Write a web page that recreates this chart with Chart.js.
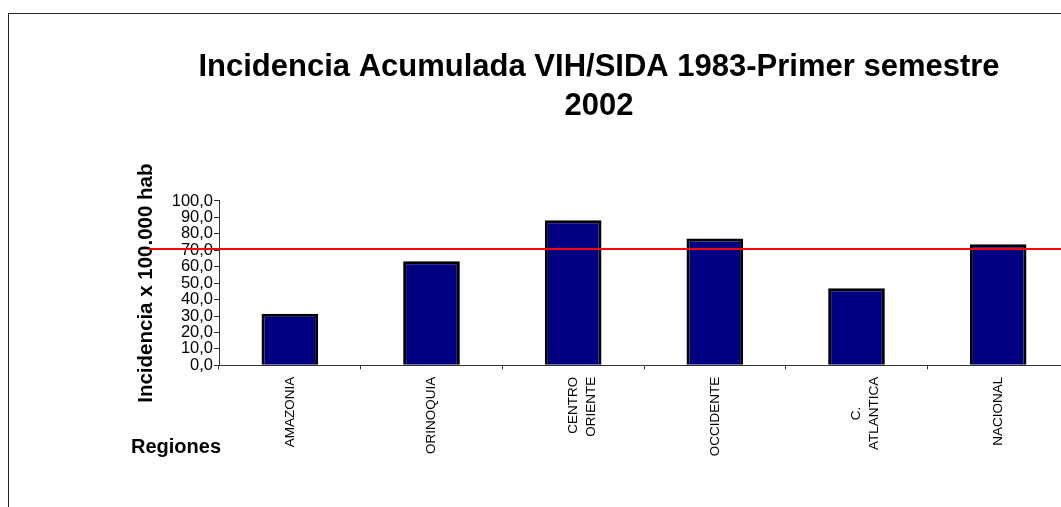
<!DOCTYPE html>
<html>
<head>
<meta charset="utf-8">
<script src="https://cdn.jsdelivr.net/npm/chart.js@4/dist/chart.umd.min.js"></script>
<style>
  html, body { margin: 0; padding: 0; background: #fff; overflow: hidden; width: 1061px; height: 507px; }
  #c { position: absolute; left: 0; top: 0; }
</style>
</head>
<body>
<canvas id="c" width="1075" height="507"></canvas>
<script>
const categories = [['AMAZONIA'], ['ORINOQUIA'], ['CENTRO', 'ORIENTE'], ['OCCIDENTE'], ['C.', 'ATLANTICA'], ['NACIONAL']];
const incidence = [31.4, 63.3, 88.3, 77.1, 46.9, 73.6];
const referenceLine = [70.7];
const yTickLabels = ['0,0', '10,0', '20,0', '30,0', '40,0', '50,0', '60,0', '70,0', '80,0', '90,0', '100,0'];
const titleLines = ['Incidencia Acumulada VIH/SIDA 1983-Primer semestre', '2002'];
const yTitle = 'Incidencia x 100.000 hab';
const xTitle = 'Regiones';

const FONT = '"Liberation Sans", Arial, Helvetica, sans-serif';
const AXIS = '#333333';
const X_FONT_SIZE = 13.5;

// center the lines of multi-line rotated labels (Chart.js right-aligns them)
const measureCtx = document.createElement('canvas').getContext('2d');
measureCtx.font = X_FONT_SIZE + 'px ' + FONT;
function centerLines(lines) {
  if (!Array.isArray(lines) || lines.length < 2) return lines;
  const widths = lines.map(l => measureCtx.measureText(l).width);
  const maxW = Math.max(...widths);
  const sp = measureCtx.measureText(' ').width;
  return lines.map((l, i) => l + ' '.repeat(Math.round((maxW - widths[i]) / 2 / sp)));
}

const decor = {
  id: 'decor',
  beforeDraw(chart) {
    const ctx = chart.ctx;
    ctx.save();
    ctx.fillStyle = '#ffffff';
    ctx.fillRect(0, 0, chart.width, chart.height);
    ctx.strokeStyle = '#222222';
    ctx.lineWidth = 1;
    ctx.strokeRect(8.5, 13.5, chart.width + 50, chart.height + 50);
    ctx.restore();
  },
  afterDraw(chart) {
    const ctx = chart.ctx;
    const a = chart.chartArea;
    const y = chart.scales.y.getPixelForValue(referenceLine[0]);
    ctx.save();
    ctx.strokeStyle = '#ff0000';
    ctx.lineWidth = 2;
    ctx.beginPath();
    ctx.moveTo(a.left - 70, y);
    ctx.lineTo(chart.width, y);
    ctx.stroke();
    ctx.fillStyle = '#000';
    ctx.font = 'bold 20px ' + FONT;
    ctx.textAlign = 'left';
    ctx.textBaseline = 'alphabetic';
    ctx.fillText(xTitle, a.left - 88, a.bottom + 88);
    ctx.restore();
  }
};

new Chart(document.getElementById('c'), {
  type: 'bar',
  data: {
    labels: categories,
    datasets: [{
      data: incidence,
      backgroundColor: '#000080',
      borderColor: '#000000',
      borderWidth: 3,
      barPercentage: 0.4,
      categoryPercentage: 1.0
    }]
  },
  options: {
    responsive: false,
    animation: false,
    devicePixelRatio: 1,
    layout: { padding: { left: 129, top: 13, right: 6, bottom: 21.7 } },
    plugins: {
      legend: { display: false },
      tooltip: { enabled: false },
      title: {
        display: true,
        text: titleLines,
        color: '#000',
        font: { family: FONT, size: 31, weight: 'bold', lineHeight: 1.277 },
        padding: { top: 34.5, bottom: 74.3 }
      }
    },
    scales: {
      x: {
        grid: { display: true, drawOnChartArea: false, drawTicks: true, tickLength: 4, offset: true, color: AXIS },
        border: { display: true, color: AXIS, width: 1 },
        ticks: {
          color: '#000', autoSkip: false, minRotation: 90, maxRotation: 90, padding: 7.5,
          font: { family: FONT, size: X_FONT_SIZE, lineHeight: 1.35 },
          callback: (v, i) => centerLines(categories[i])
        },
        afterFit(scale) { scale.height = 120; }
      },
      y: {
        min: 0, max: 100,
        grid: { display: true, drawOnChartArea: false, drawTicks: true, tickLength: 5, color: AXIS },
        border: { display: true, color: AXIS, width: 1 },
        ticks: {
          stepSize: 10, color: '#000', padding: 1, autoSkip: false,
          font: { family: FONT, size: 16.5 },
          callback: (v, i) => yTickLabels[i]
        },
        title: {
          display: true, text: yTitle, color: '#000',
          padding: { top: 5, bottom: 0 },
          font: { family: FONT, size: 20.5, weight: 'bold', lineHeight: 1.2 }
        },
        afterFit(scale) { scale.width = 90; }
      }
    }
  },
  plugins: [decor]
});
</script>
</body>
</html>
